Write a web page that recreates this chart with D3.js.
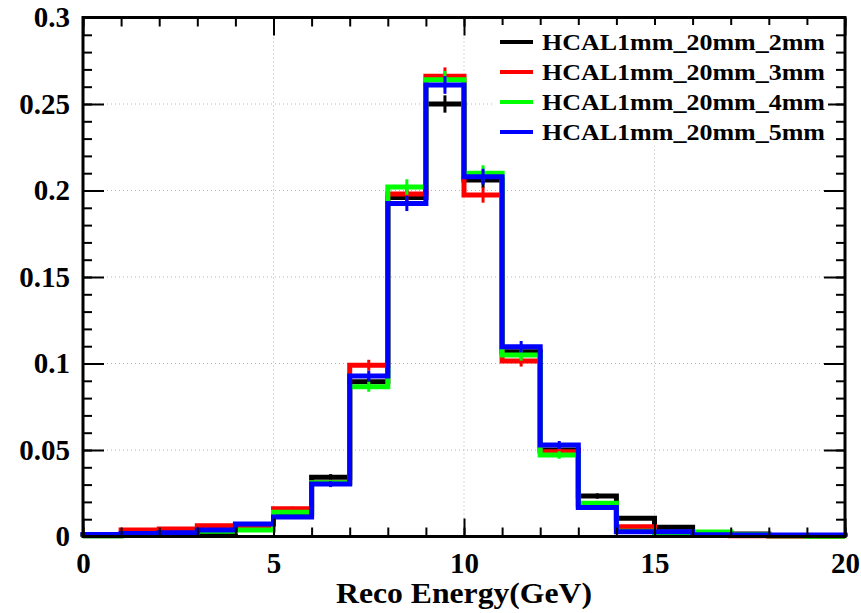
<!DOCTYPE html>
<meta charset="utf-8">
<script src="https://d3js.org/d3.v7.min.js"></script>
<style>
  body { margin: 0; background: #fff; }
  text { font-family: "Liberation Serif", "Times New Roman", serif; font-weight: bold; }
</style>
<div id="chart"></div>
<script>

// bins: low edges, width 1 GeV
var binLow = [0,1,2,3,4,5,6,7,8,9,10,11,12,13,14,15,16,17,18,19];
var binWidth = 1;

var seriesNames = ["HCAL1mm_20mm_2mm", "HCAL1mm_20mm_3mm", "HCAL1mm_20mm_4mm", "HCAL1mm_20mm_5mm"];
var seriesColors = ["#000000", "#ff0000", "#00ff00", "#0000ff"];

var val2mm = [0.0005,0.0008,0.0008,0.002,0.004,0.013,0.0342,0.0895,0.196,0.250,0.206,0.1068,0.050,0.0234,0.0105,0.0053,0.002,0.0015,0.0005,0.0003];
var val3mm = [0.0008,0.0037,0.0043,0.0062,0.006,0.016,0.031,0.099,0.198,0.266,0.1974,0.1014,0.049,0.018,0.0057,0.001,0.0008,0.0005,0.0003,0.0002];
var val4mm = [0.0005,0.001,0.0015,0.003,0.0038,0.014,0.031,0.0866,0.202,0.264,0.210,0.1049,0.0471,0.0192,0.003,0.002,0.0026,0.001,0.0005,0.0002];
var val5mm = [0.0012,0.0018,0.0022,0.0038,0.0072,0.0112,0.0303,0.0928,0.1925,0.261,0.208,0.1097,0.0529,0.0167,0.0028,0.0028,0.001,0.0008,0.0008,0.0008];

// events per sample, used for the poisson error bars
var nEvents = 10000;

var xTickValues = [0,5,10,15,20];
var xTickLabels = ["0","5","10","15","20"];
var yTickValues = [0,0.05,0.1,0.15,0.2,0.25,0.3];
var yTickLabels = ["0","0.05","0.1","0.15","0.2","0.25","0.3"];

var xTitle = "Reco Energy(GeV)";

//size
var W = 861, H = 613;
var mLeft = 83, mRight = 845, mTop = 17.5, mBottom = 536.5;

var svg = d3.select("#chart").append("svg")
    .attr("width", W)
    .attr("height", H);

var x = d3.scaleLinear().domain([0, 20]).range([mLeft, mRight]);
var y = d3.scaleLinear().domain([0, 0.3]).range([mBottom, mTop]);

// grid
var grid = svg.append("g")
    .attr("stroke", "#b4b4b4")
    .attr("stroke-width", 1)
    .attr("stroke-dasharray", "1,3");
grid.selectAll(".gx").data(xTickValues.slice(1, -1)).enter().append("line")
    .attr("x1", d => x(d)).attr("x2", d => x(d))
    .attr("y1", mTop).attr("y2", mBottom);
grid.selectAll(".gy").data(yTickValues.slice(1, -1)).enter().append("line")
    .attr("x1", mLeft).attr("x2", mRight)
    .attr("y1", d => y(d)).attr("y2", d => y(d));

// histograms
var allSeries = [val2mm, val3mm, val4mm, val5mm];

allSeries.forEach(function(vals, i) {
  var pts = [[0, 0]];
  vals.forEach(function(v, j) {
    pts.push([binLow[j], v]);
    pts.push([binLow[j] + binWidth, v]);
  });
  pts.push([20, 0]);

  svg.append("path")
    .datum(pts)
    .attr("fill", "none")
    .attr("stroke", seriesColors[i])
    .attr("stroke-width", 5)
    .attr("stroke-linejoin", "miter")
    .attr("d", d3.line().x(d => x(d[0])).y(d => y(d[1])));

  svg.append("g").selectAll("line")
    .data(vals)
    .enter().append("line")
      .attr("stroke", seriesColors[i])
      .attr("stroke-width", 3)
      .attr("x1", (d, j) => x(binLow[j] + binWidth / 2))
      .attr("x2", (d, j) => x(binLow[j] + binWidth / 2))
      .attr("y1", d => y(d + Math.sqrt(d / nEvents)))
      .attr("y2", d => y(Math.max(0, d - Math.sqrt(d / nEvents))));
});

// axes (ticks inside the frame)
var minorX = d3.range(0, 21, 1);
var minorY = d3.range(0, 0.3001, 0.01);

function styleAxis(g) {
  g.select(".domain").remove();
  g.selectAll(".tick line").attr("stroke", "#000").attr("stroke-width", 2);
  g.selectAll(".tick text").attr("fill", "#000").attr("font-size", 29)
    .attr("font-family", "'Liberation Serif', serif").attr("font-weight", "bold");
}

svg.append("g").attr("transform", "translate(0," + mBottom + ")")
  .call(d3.axisBottom(x).tickValues(minorX).tickSize(-9).tickFormat(""))
  .call(styleAxis);
svg.append("g").attr("transform", "translate(0," + mBottom + ")")
  .call(d3.axisBottom(x).tickValues(xTickValues).tickSize(-18).tickPadding(16)
    .tickFormat((d, i) => xTickLabels[i]))
  .call(styleAxis);
svg.append("g").attr("transform", "translate(0," + mTop + ")")
  .call(d3.axisTop(x).tickValues(minorX).tickSize(-9).tickFormat(""))
  .call(styleAxis);
svg.append("g").attr("transform", "translate(0," + mTop + ")")
  .call(d3.axisTop(x).tickValues(xTickValues).tickSize(-18).tickFormat(""))
  .call(styleAxis);

svg.append("g").attr("transform", "translate(" + mLeft + ",0)")
  .call(d3.axisLeft(y).tickValues(minorY).tickSize(-9).tickFormat(""))
  .call(styleAxis);
svg.append("g").attr("transform", "translate(" + mLeft + ",0)")
  .call(d3.axisLeft(y).tickValues(yTickValues).tickSize(-21).tickPadding(13)
    .tickFormat((d, i) => yTickLabels[i]))
  .call(styleAxis);
svg.append("g").attr("transform", "translate(" + mRight + ",0)")
  .call(d3.axisRight(y).tickValues(minorY).tickSize(-9).tickFormat(""))
  .call(styleAxis);
svg.append("g").attr("transform", "translate(" + mRight + ",0)")
  .call(d3.axisRight(y).tickValues(yTickValues).tickSize(-21).tickFormat(""))
  .call(styleAxis);

// frame
svg.append("rect")
    .attr("x", mLeft).attr("y", mTop)
    .attr("width", mRight - mLeft).attr("height", mBottom - mTop)
    .attr("fill", "none")
    .attr("stroke", "#000")
    .attr("stroke-width", 3);

// x title
svg.append("text")
    .attr("x", (mLeft + mRight) / 2)
    .attr("y", 603)
    .attr("text-anchor", "middle")
    .attr("font-size", 29)
    .attr("textLength", 256)
    .attr("lengthAdjust", "spacingAndGlyphs")
    .text(xTitle);

// legend
var legend = svg.append("g");
legend.append("rect")
    .attr("x", 495).attr("y", 25)
    .attr("width", 333).attr("height", 121)
    .attr("fill", "#fff");

var rowY = [42, 72, 102, 132];
seriesNames.forEach(function(name, i) {
  legend.append("line")
    .attr("x1", 500).attr("x2", 533)
    .attr("y1", rowY[i]).attr("y2", rowY[i])
    .attr("stroke", seriesColors[i])
    .attr("stroke-width", 4);
  legend.append("text")
    .attr("x", 542)
    .attr("y", rowY[i])
    .attr("dy", "0.33em")
    .attr("font-size", 23)
    .attr("textLength", 283)
    .attr("lengthAdjust", "spacingAndGlyphs")
    .text(name);
});

</script>
